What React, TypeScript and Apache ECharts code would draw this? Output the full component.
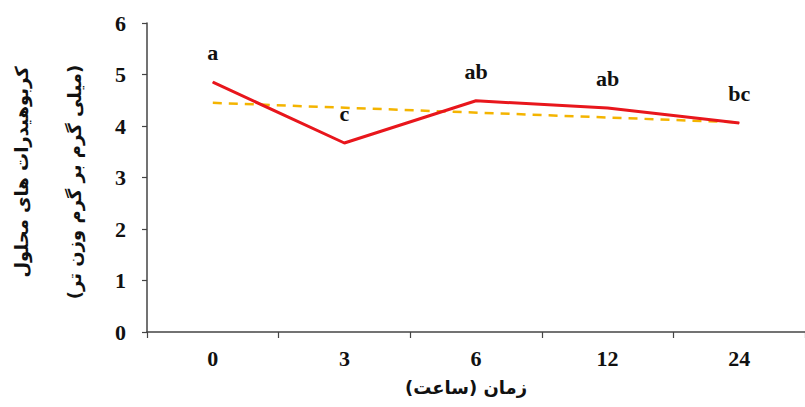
import React, { useEffect, useRef } from "react";
import * as echarts from "echarts";

const categories = ["0", "3", "6", "12", "24"];
const carbValues = [4.85, 3.67, 4.49, 4.35, 4.06];
const letters = ["a", "c", "ab", "ab", "bc"];
const trendValues: (number | null)[] = [4.45, null, null, null, 4.07];
const yTitle1 = "کربوهیدرات های محلول";
const yTitle2 = "(میلی گرم بر گرم وزن تر)";
const xTitle = "زمان (ساعت)";

export default function App() {
  const ref = useRef<HTMLDivElement>(null);
  useEffect(() => {
    if (!ref.current) return;
    const chart = echarts.init(ref.current, null, { renderer: "svg" });
    const serif = "'Liberation Serif', 'Times New Roman', serif";
    const persian = "'DejaVu Sans', sans-serif";
    chart.setOption({
      animation: false,
      backgroundColor: "#ffffff",
      grid: { left: 147, right: 0, top: 23, bottom: 75, containLabel: false },
      xAxis: {
        type: "category",
        data: categories,
        boundaryGap: true,
        axisLine: { lineStyle: { color: "#444", width: 1.5 } },
        axisTick: { show: true, inside: false, length: 6, lineStyle: { color: "#444", width: 1.2 } },
        axisLabel: {
          margin: 15,
          color: "#111",
          fontFamily: serif,
          fontWeight: "bold",
          fontSize: 22,
        },
        splitLine: { show: false },
      },
      yAxis: {
        type: "value",
        min: 0,
        max: 6,
        interval: 1,
        axisLine: { show: true, lineStyle: { color: "#444", width: 1.5 } },
        axisTick: { show: true, length: 5, lineStyle: { color: "#444", width: 1.2 } },
        axisLabel: {
          margin: 21,
          color: "#111",
          fontFamily: serif,
          fontWeight: "bold",
          fontSize: 22,
        },
        splitLine: { show: false },
      },
      graphic: [
        {
          type: "text",
          x: 12,
          y: 172,
          rotation: Math.PI / 2,
          style: {
            text: yTitle1,
            fontFamily: persian,
            fontWeight: "bold",
            fontSize: 18,
            fill: "#111",
            align: "center",
            verticalAlign: "top",
          },
        },
        {
          type: "text",
          x: 65,
          y: 182,
          rotation: Math.PI / 2,
          style: {
            text: yTitle2,
            fontFamily: persian,
            fontWeight: "bold",
            fontSize: 18,
            fill: "#111",
            align: "center",
            verticalAlign: "top",
          },
        },
        {
          type: "text",
          x: 466,
          y: 387,
          style: {
            text: xTitle,
            fontFamily: persian,
            fontWeight: "bold",
            fontSize: 18,
            fill: "#111",
            align: "center",
            verticalAlign: "middle",
          },
        },
      ],
      series: [
        {
          type: "line",
          data: trendValues,
          connectNulls: true,
          symbol: "none",
          lineStyle: { color: "#f4b400", width: 2.5, type: [9, 7] },
          z: 2,
        },
        {
          type: "line",
          data: carbValues,
          symbol: "circle",
          symbolSize: 1,
          showSymbol: true,
          itemStyle: { color: "#e8161c" },
          lineStyle: { color: "#e8161c", width: 3 },
          label: {
            show: true,
            position: "top",
            distance: 18,
            formatter: (p: any) => letters[p.dataIndex],
            fontFamily: serif,
            fontWeight: "bold",
            fontSize: 22,
            color: "#111",
          },
          labelLayout: { hideOverlap: false },
          z: 3,
        },
      ],
    });
    return () => chart.dispose();
  }, []);
  return (
    <div
      ref={ref}
      style={{ position: "absolute", left: 0, top: 0, width: 805, height: 407 }}
    />
  );
}
